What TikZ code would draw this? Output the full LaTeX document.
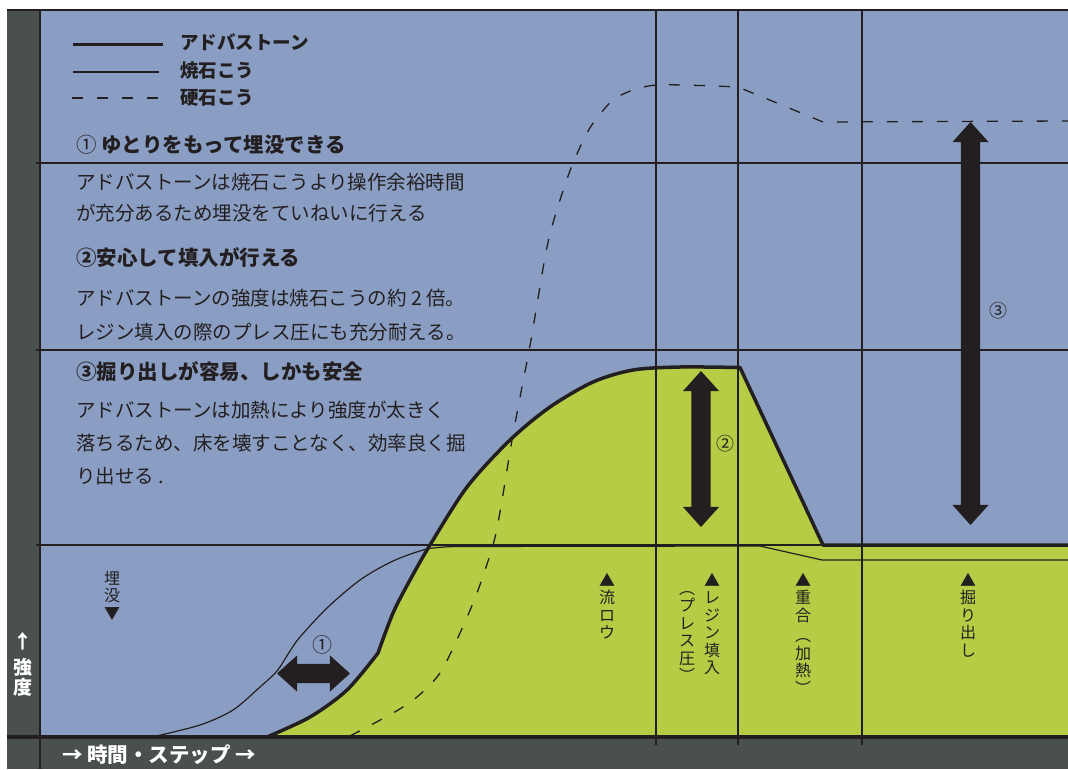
\documentclass[tikz,border=0pt]{standalone}
\usepackage{fontspec}
\setmainfont{Noto Sans CJK JP}
\usetikzlibrary{shapes.arrows}
\definecolor{bgblue}{RGB}{138,158,196}
\definecolor{paste}{RGB}{181,204,68}
\definecolor{frame}{RGB}{74,79,79}
\definecolor{ink}{RGB}{35,31,32}
\tikzset{
  gridline/.style={ink, line width=2.6pt},
  advline/.style={ink, line width=3.5pt, line join=round},
  yakiline/.style={ink, line width=1.2pt},
  koline/.style={ink, line width=1.3pt, dash pattern=on 11pt off 14pt},
  legend/.style={anchor=west, inner sep=0, text=ink, font=\fontsize{18.5}{18.5}\selectfont\bfseries},
  head/.style={anchor=west, inner sep=0, text=ink, font=\fontsize{20.5}{20.5}\selectfont\bfseries},
  body/.style={anchor=west, inner sep=0, text=ink, align=left, font=\fontsize{19.5}{33}\selectfont},
  stagelabel/.style={anchor=north, inner sep=0, text=ink, align=center, font=\fontsize{16}{17.5}\selectfont},
  axislabel/.style={inner sep=0, text=white, font=\fontsize{20.5}{20.5}\selectfont\bfseries},
  fatarrow/.style={double arrow, fill=ink, inner xsep=0, inner ysep=9.5pt,
    double arrow head extend=8.5pt, double arrow tip angle=84},
  numlabel/.style={inner sep=0, text=ink, font=\fontsize{18}{18}\selectfont},
}
\begin{document}
\begin{tikzpicture}[x=1pt, y=-1pt]
  \fill[white] (0,0) rectangle (1068,769);
  \useasboundingbox (0,0) rectangle (1068,769);
  % background and frame
  \fill[bgblue] (40,10) rectangle (1068,737);
  \fill[frame] (7,10) rectangle (40,769);
  \fill[frame] (7,737) rectangle (1068,769);
  % Advastone area
  \fill[paste] plot[smooth] coordinates {(267,737) (310,717) (347,690) (378,653)}
    -- plot[smooth] coordinates {(378,653) (393,613) (410,580) (430,545) (467,487) (510,440) (550,407) (593,382) (633,370) (680,367) (740,367.5)}
    -- (823,545) -- (1068,545) -- (1068,737) -- cycle;
  % grid
  \draw[gridline] (36,163) -- (1068,163);
  \draw[gridline] (36,350) -- (1068,350);
  \draw[gridline] (36,545) -- (1068,545);
  \draw[gridline] (656,10) -- (656,745);
  \draw[gridline] (738,10) -- (738,745);
  \draw[gridline] (862,10) -- (862,745);
  \draw[ink, line width=2pt] (7,10) -- (1068,10);
  \draw[ink, line width=2.6pt] (40,10) -- (40,769);
  \draw[ink, line width=3.5pt] (7,737) -- (1068,737);
  % curves
  \draw[yakiline] plot[smooth] coordinates {(152,737) (200,725) (233,710) (260,687) (277,671) (290,651) (300,637) (327,608) (360,580) (393,561) (427,549) (455,546.5)}
    -- (760,546) -- (822,560) -- (1068,560);
  \draw[koline] plot[smooth, tension=0.5] coordinates {(350,736) (393,713) (417,697) (440,673) (460,633) (477,593) (493,545) (500,512) (512,440) (522,387) (531,340) (547,247) (560,200) (573,163) (587,133) (597,118) (613,100) (633,90) (657,85) (700,85.5) (738,87)}
    -- (823,122) -- (1068,121);
  \draw[advline] plot[smooth] coordinates {(267,737) (310,717) (347,690) (378,653)}
    -- plot[smooth] coordinates {(378,653) (393,613) (410,580) (430,545) (467,487) (510,440) (550,407) (593,382) (633,370) (680,367) (740,367.5)}
    -- (823,545) -- (1068,545);
  % arrows
  \node[fatarrow, minimum height=73pt] (margin) at (313.5,673.5) {};
  \node[fatarrow, minimum height=156pt, rotate=90] (press) at (701,449) {};
  \node[fatarrow, minimum height=403pt, rotate=90] (digout) at (970.5,323.5) {};
  \node[numlabel, font=\fontsize{20}{20}\selectfont] (marginno) at (322,645) {①};
  \node[numlabel] (pressno) at (725,444) {②};
  \node[numlabel] (digoutno) at (998,311) {③};
  % legend
  \node[legend] (legadv) at (180,42) {アドバストーン};
  \node[legend] (legyaki) at (180,70) {焼石こう};
  \node[legend] (legko) at (180,98) {硬石こう};
  \draw[ink, line width=3pt] ([xshift=-17pt]legadv.west |- 0,44) -- ++(-90,0);
  \draw[yakiline] ([xshift=-21pt]legyaki.west |- 0,72) -- ++(-86,0);
  \draw[koline] ([xshift=-22pt]legko.west |- 0,98) -- ++(-90,0);
  % notes
  \node[head] (noteA) at (76,145) {{\mdseries ①} ゆとりをもって埋没できる};
  \node[body] (textA) at (76,197.5) {アドバストーンは焼石こうより操作余裕時間\\[-2pt]が充分あるため埋没をていねいに行える};
  \node[head] (noteB) at (76,257) {②安心して填入が行える};
  \node[body] (textB) at (76,315) {アドバストーンの強度は焼石こうの約 2 倍。\\[1pt]レジン填入の際のプレス圧にも充分耐える。};
  \node[head] (noteC) at (76,372) {③掘り出しが容易、しかも安全};
  \node[body] (textC) at (76,443.5) {アドバストーンは加熱により強度が太きく\\落ちるため、床を壊すことなく、効率良く掘\\り出せる .};
  % stages
  \node[stagelabel] (maibotsu) at (112,571) {埋\\没\\▼};
  \node[stagelabel] (ryuro) at (607,573) {▲\\流\\ロ\\ウ};
  \node[stagelabel] (juten) at (712,573) {▲\\レ\\ジ\\ン\\填\\入};
  \node[stagelabel] (puresu) at (687,591) {︵\\プ\\レ\\ス\\圧\\︶};
  \node[stagelabel] (jugo) at (803,573) {▲\\重\\合\\[3pt]︵\\加\\熱\\︶};
  \node[stagelabel] (horidashi) at (968,573) {▲\\掘\\り\\出\\し};
  % axes
  \node[axislabel, align=center, font=\fontsize{19}{20}\selectfont\bfseries] (kyodo) at (23,664) {↑\\[6pt]強\\度};
  \node[axislabel, anchor=west] (jikan) at (62,755) {→ 時間・ステップ →};
\end{tikzpicture}
\end{document}
